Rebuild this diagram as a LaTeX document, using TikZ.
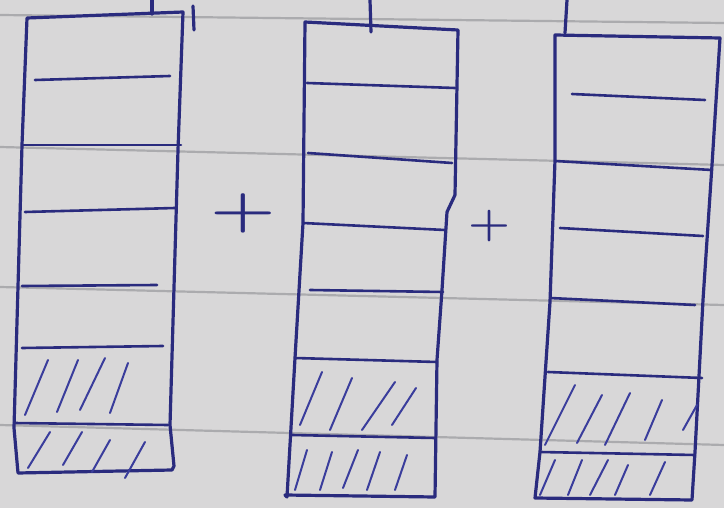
\documentclass[tikz,border=0pt]{standalone}
\usepackage{graphicx}
\definecolor{paper}{HTML}{D8D7D8}
\definecolor{rule}{HTML}{8E8E92}
\definecolor{ink}{HTML}{2A2B7E}
\definecolor{inklight}{HTML}{3A3D9C}
\tikzset{
  outline/.style={draw=ink, line width=3.2pt, line join=round, line cap=round},
  divider/.style={draw=ink, line width=2.6pt, line cap=round},
  hatch/.style={draw=inklight, line width=2pt, line cap=round},
  ruled/.style={draw=rule, line width=2.2pt, opacity=0.6},
  plussign/.style={text=ink, font=\bfseries\fontsize{50}{50}\selectfont}
}
\begin{document}
\begin{tikzpicture}[x=1pt,y=-1pt]
\useasboundingbox (0,0) rectangle (724,508);
\fill[paper] (0,0) rectangle (724,508);
% ruled paper lines
\draw[ruled] (0,15) -- (724,23);
\draw[ruled] (0,147) -- (724,165);
\draw[ruled] (0,287) -- (724,305);
\draw[ruled] (0,425) -- (724,445);

% ---------- column 1 ----------
\draw[outline] (27,18) -- (183,12) -- (178,150) -- (170,425) -- (174,466) -- (172,470) -- (18,473) -- (14,428) -- (22,145) -- cycle;
\draw[outline] (152,0) -- (152,14);
\draw[outline] (193,6) -- (194,30);
\draw[divider] (35,80) -- (170,76);
\draw[divider] (22,145) -- (181,145);
\draw[divider] (25,212) -- (175,208);
\draw[divider] (22,286) -- (157,285);
\draw[divider] (22,348) -- (163,346);
\draw[divider] (14,423) -- (168,425);
\draw[hatch] (25,415) -- (48,360);
\draw[hatch] (57,412) -- (78,360);
\draw[hatch] (80,410) -- (105,358);
\draw[hatch] (110,413) -- (128,363);
\draw[hatch] (28,468) -- (50,432);
\draw[hatch] (63,465) -- (82,432);
\draw[hatch] (92,472) -- (110,440);
\draw[hatch] (125,478) -- (145,442);

% ---------- column 2 ----------
\draw[outline] (305,22) -- (458,30) -- (455,195) -- (447,212) -- (442,290) -- (437,360) -- (435,497) -- (285,495) -- (287,497) -- (295,358) -- (303,223) -- cycle;
\draw[outline] (370,0) -- (371,32);
\draw[divider] (307,83) -- (455,88);
\draw[divider] (308,153) -- (452,163);
\draw[divider] (303,223) -- (445,230);
\draw[divider] (310,290) -- (443,292);
\draw[divider] (295,358) -- (437,362);
\draw[divider] (292,435) -- (435,438);
\draw[hatch] (300,425) -- (322,372);
\draw[hatch] (330,430) -- (352,378);
\draw[hatch] (362,430) -- (395,382);
\draw[hatch] (392,425) -- (416,388);
\draw[hatch] (295,490) -- (307,450);
\draw[hatch] (320,490) -- (332,452);
\draw[hatch] (343,488) -- (358,450);
\draw[hatch] (367,490) -- (380,452);
\draw[hatch] (395,490) -- (407,455);

% ---------- column 3 ----------
\draw[outline] (555,35) -- (720,38) -- (712,165) -- (703,300) -- (695,452) -- (692,500) -- (535,498) -- (540,452) -- (550,302) -- (555,160) -- cycle;
\draw[outline] (567,0) -- (565,33);
\draw[divider] (572,94) -- (705,100);
\draw[divider] (555,161) -- (712,170);
\draw[divider] (560,228) -- (703,236);
\draw[divider] (550,298) -- (695,305);
\draw[divider] (548,372) -- (702,378);
\draw[divider] (540,452) -- (695,455);
\draw[hatch] (545,445) -- (575,385);
\draw[hatch] (577,443) -- (602,395);
\draw[hatch] (605,445) -- (630,393);
\draw[hatch] (645,440) -- (662,400);
\draw[hatch] (683,430) -- (697,405);
\draw[hatch] (540,495) -- (555,460);
\draw[hatch] (568,495) -- (582,460);
\draw[hatch] (590,495) -- (608,460);
\draw[hatch] (615,495) -- (628,465);
\draw[hatch] (650,495) -- (665,462);

% plus signs
\node[plussign] (plusa) at (243,213) {\scalebox{1.5}[1.05]{+}};
\node[plussign, font=\bfseries\fontsize{40}{40}\selectfont] (plusb) at (489,226) {\scalebox{1.2}[1.05]{+}};
\end{tikzpicture}
\end{document}
